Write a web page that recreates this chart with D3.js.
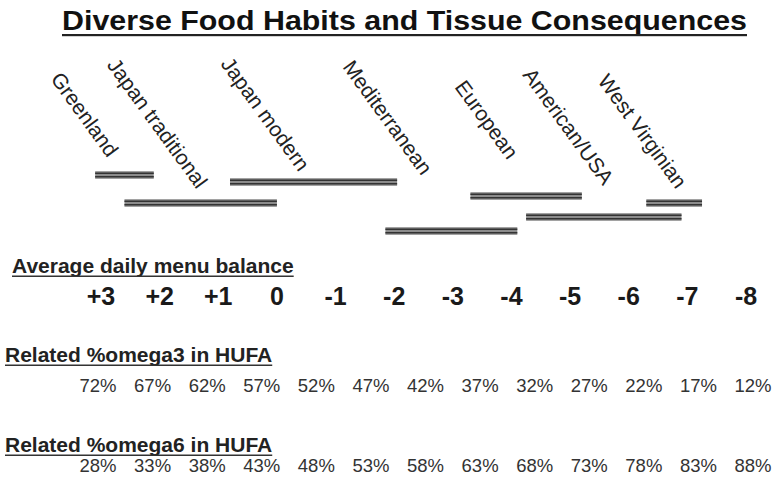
<!DOCTYPE html>
<html>
<head>
<meta charset="utf-8">
<script src="https://cdn.jsdelivr.net/npm/d3@7"></script>
<style>
  body { margin: 0; background: #fff; }
  svg { display: block; font-family: "Liberation Sans", Arial, sans-serif; }
</style>
</head>
<body>
<div id="chart"></div>
<script>
// Diet patterns and the balance range each covers
const diets = ["Greenland", "Japan traditional", "Japan modern", "Mediterranean", "European", "American/USA", "West Virginian"];
const rangeFrom = [3.1, 2.6, 0.8, -1.85, -3.3, -4.25, -6.3];
const rangeTo = [2.1, 0, -2.05, -4.1, -5.2, -6.9, -7.25];
const tier = [0, 1, 0.25, 2, 0.75, 1.5, 1];

// Scale rows
const balanceTicks = ["+3", "+2", "+1", "0", "-1", "-2", "-3", "-4", "-5", "-6", "-7", "-8"];
const omega3 = ["72%", "67%", "62%", "57%", "52%", "47%", "42%", "37%", "32%", "27%", "22%", "17%", "12%"];
const omega6 = ["28%", "33%", "38%", "43%", "48%", "53%", "58%", "63%", "68%", "73%", "78%", "83%", "88%"];

// label anchors (in balance units) and baseline drop
const labelAt = [3.87, 2.91, 0.97, -1.11, -3.02, -4.18, -5.46];
const labelY = [79, 65, 64, 67, 87, 75, 81];

const width = 773, height = 483;

const svg = d3.select("#chart").append("svg")
    .attr("width", width)
    .attr("height", height);

const x = d3.scaleLinear().domain([3, -8]).range([101, 746]);
const y = d3.scaleLinear().domain([0, 2]).range([175, 231]);
const pct = d3.scalePoint().domain(d3.range(omega3.length)).range([98, 753]);

// Title
svg.append("text")
    .attr("x", 62).attr("y", 30)
    .attr("textLength", 685).attr("lengthAdjust", "spacingAndGlyphs")
    .attr("font-size", 28).attr("font-weight", "bold").attr("fill", "#111")
    .text("Diverse Food Habits and Tissue Consequences");
svg.append("rect").attr("x", 62).attr("y", 34).attr("width", 685).attr("height", 2.2).attr("fill", "#222");

// Rotated diet labels
svg.selectAll(".diet-label")
    .data(diets)
    .join("text")
    .attr("class", "diet-label")
    .attr("transform", (d, i) => `translate(${x(labelAt[i])},${labelY[i]}) rotate(54)`)
    .attr("font-size", 21)
    .attr("fill", "#222")
    .text(d => d);

// Double-line bars
const bars = svg.selectAll(".bar")
    .data(diets)
    .join("g")
    .attr("class", "bar")
    .attr("transform", (d, i) => `translate(0,${y(tier[i])})`);

bars.append("rect")
    .attr("x", (d, i) => x(rangeFrom[i]))
    .attr("y", -3.8)
    .attr("width", (d, i) => x(rangeTo[i]) - x(rangeFrom[i]))
    .attr("height", 7.6)
    .attr("fill", "#8c8c8c");

[-1.7, 1.7].forEach(off => {
    bars.append("line")
        .attr("x1", (d, i) => x(rangeFrom[i]))
        .attr("x2", (d, i) => x(rangeTo[i]))
        .attr("y1", off).attr("y2", off)
        .attr("stroke", "#333")
        .attr("stroke-width", 1.4);
});

// Section headers
function header(label, yy, size, xx) {
    const t = svg.append("text")
        .attr("x", xx).attr("y", yy)
        .attr("font-size", size).attr("font-weight", "bold").attr("fill", "#222")
        .text(label);
    const len = t.node().getComputedTextLength();
    svg.append("rect").attr("x", xx).attr("y", yy + 2.5).attr("width", len).attr("height", 1.5).attr("fill", "#333");
}

header("Average daily menu balance", 273, 21, 12);
header("Related %omega3 in HUFA", 362, 21, 5);
header("Related %omega6 in HUFA", 452, 21, 5);

// Balance numbers
svg.selectAll(".tick-num")
    .data(balanceTicks)
    .join("text")
    .attr("class", "tick-num")
    .attr("x", (d, i) => x(3 - i))
    .attr("y", 305)
    .attr("text-anchor", "middle")
    .attr("font-size", 25).attr("font-weight", "bold").attr("fill", "#1a1a1a")
    .text(d => d);

// Percent rows
svg.selectAll(".o3")
    .data(omega3)
    .join("text")
    .attr("class", "o3")
    .attr("x", (d, i) => pct(i))
    .attr("y", 392)
    .attr("text-anchor", "middle")
    .attr("font-size", 18.5).attr("fill", "#333")
    .text(d => d);

svg.selectAll(".o6")
    .data(omega6)
    .join("text")
    .attr("class", "o6")
    .attr("x", (d, i) => pct(i))
    .attr("y", 472)
    .attr("text-anchor", "middle")
    .attr("font-size", 18.5).attr("fill", "#333")
    .text(d => d);
</script>
</body>
</html>
